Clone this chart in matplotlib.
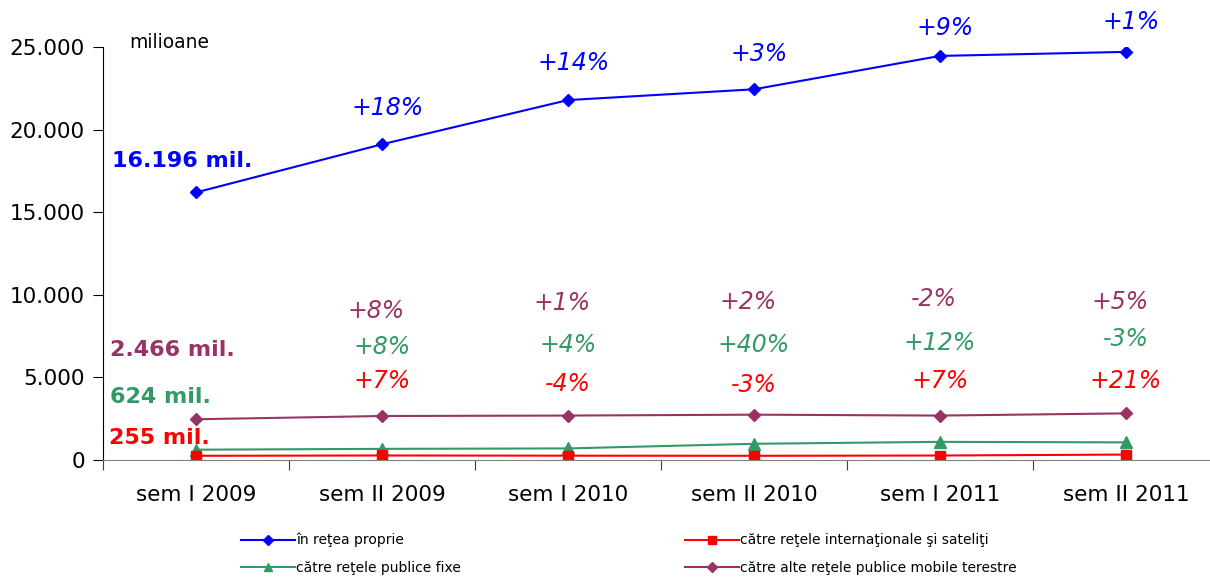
import numpy as np
import matplotlib
matplotlib.use("Agg")
import matplotlib.pyplot as plt

# semesters
categories = ["sem I 2009", "sem II 2009", "sem I 2010", "sem II 2010", "sem I 2011", "sem II 2011"]

# traffic, milioane minute
proprie = [16196, 19111, 21787, 22440, 24460, 24705]
internationale = [255, 273, 262, 254, 272, 329]
fixe = [624, 674, 701, 981, 1099, 1066]
mobile = [2466, 2663, 2690, 2744, 2689, 2823]

# growth labels vs previous semester
pct_proprie = ["+18%", "+14%", "+3%", "+9%", "+1%"]
pct_mobile = ["+8%", "+1%", "+2%", "-2%", "+5%"]
pct_fixe = ["+8%", "+4%", "+40%", "+12%", "-3%"]
pct_internationale = ["+7%", "-4%", "-3%", "+7%", "+21%"]

start_labels = ["16.196 mil.", "2.466 mil.", "624 mil.", "255 mil."]

BLUE = "#0000FF"
RED = "#FF0000"
GREEN = "#339966"
PURPLE = "#993366"

fig = plt.figure(figsize=(12.10, 5.78), dpi=100)
ax = fig.add_axes([103 / 1210, 118 / 578, 1116 / 1210, 413 / 578])

x = np.arange(len(categories))
ax.plot(x, proprie, color=BLUE, marker="D", ms=6, lw=1.5, label="în reţea proprie")
ax.plot(x, fixe, color=GREEN, marker="^", ms=8, lw=1.5, label="către reţele publice fixe")
ax.plot(x, internationale, color=RED, marker="s", ms=7, lw=1.5, label="către reţele internaţionale şi sateliţi")
ax.plot(x, mobile, color=PURPLE, marker="D", ms=6, lw=1.5, label="către alte reţele publice mobile terestre")

ax.set_xlim(-0.5, len(categories) - 0.5)
ax.set_ylim(0, 25000)
ax.set_yticks(np.arange(0, 25001, 5000))
ax.set_yticklabels(["0", "5.000", "10.000", "15.000", "20.000", "25.000"], fontsize=15.5)
ax.set_xticks(np.arange(-0.5, len(categories), 1.0))
ax.set_xticklabels([])
ax.set_xticks(x, minor=True)
ax.set_xticklabels(categories, minor=True, fontsize=15.5)
ax.tick_params(axis="x", which="minor", length=0, pad=18)
ax.tick_params(axis="x", which="major", length=7, color="#404040")
ax.tick_params(axis="y", length=7, pad=6)

for s in ["top", "right"]:
    ax.spines[s].set_visible(False)
ax.spines["bottom"].set_color("#808080")

# percent labels
y_prop = [21300, 24030, 24580, 26150, 26500]
y_mob = [9020, 9500, 9550, 9750, 9550]
y_fix = [6840, 6960, 6960, 7080, 7300]
y_int = [4780, 4600, 4540, 4780, 4780]
for i in range(5):
    kw = dict(ha="center", va="center", fontsize=17, style="italic", clip_on=False)
    ax.text(i + 1.03, y_prop[i], pct_proprie[i], color=BLUE, **kw)
    ax.text(i + 0.97, y_mob[i], pct_mobile[i], color=PURPLE, **kw)
    ax.text(i + 1.0, y_fix[i], pct_fixe[i], color=GREEN, **kw)
    ax.text(i + 1.0, y_int[i], pct_internationale[i], color=RED, **kw)

# starting values
kw = dict(ha="left", va="center", fontsize=16, fontweight="bold")
ax.text(-0.45, 18100, start_labels[0], color=BLUE, **kw)
ax.text(-0.46, 6660, start_labels[1], color=PURPLE, **kw)
ax.text(-0.46, 3800, start_labels[2], color=GREEN, **kw)
ax.text(-0.47, 1330, start_labels[3], color=RED, **kw)

ax.text(-0.36, 25300, "milioane", ha="left", va="center", fontsize=13.5)

fig.legend(loc="lower left", bbox_to_anchor=(228 / 1210, -0.017), ncol=2, frameon=False,
           fontsize=10, columnspacing=16.1, handlelength=3.9, handletextpad=0.1,
           labelspacing=1.0, markerscale=0.8)

fig.savefig("out.png", dpi=100)
